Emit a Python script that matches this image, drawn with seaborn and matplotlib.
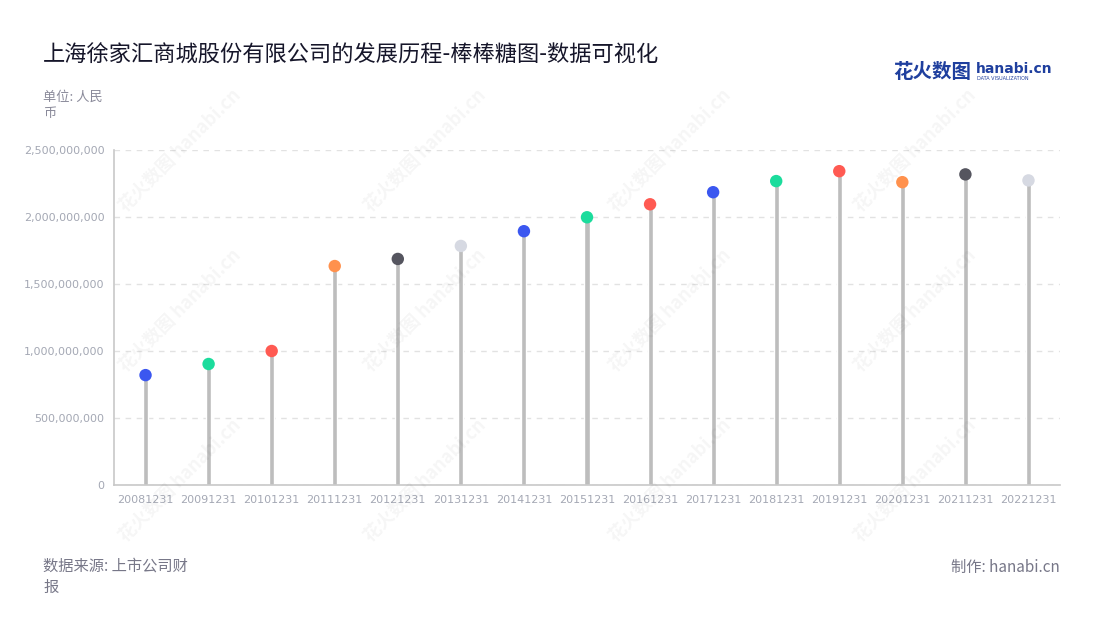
import matplotlib
matplotlib.use('Agg')
import matplotlib.pyplot as plt
import matplotlib.ticker as mticker
import seaborn as sns
import pandas as pd

dates = ['20081231', '20091231', '20101231', '20111231', '20121231', '20131231', '20141231',
         '20151231', '20161231', '20171231', '20181231', '20191231', '20201231', '20211231', '20221231']
values = [820e6, 903e6, 1000e6, 1634e6, 1687e6, 1784e6, 1894e6,
          1998e6, 2095e6, 2185e6, 2268e6, 2342e6, 2260e6, 2318e6, 2273e6]
dot_colors = ['#3b57f0', '#1bdc9c', '#ff5a52', '#ff914d', '#55555f', '#d6d9e2', '#3b57f0',
              '#1bdc9c', '#ff5a52', '#3b57f0', '#1bdc9c', '#ff5a52', '#ff914d', '#55555f', '#d6d9e2']

df = pd.DataFrame({'date': dates, 'value': values})

sns.set_style('white')
plt.rcParams['font.family'] = ['Noto Sans CJK SC', 'DejaVu Sans']

fig = plt.figure(figsize=(11, 6.2), dpi=100)
ax = fig.add_axes([114 / 1100, 1 - 485 / 620, 946 / 1100, 335 / 620])

# watermarks
for wx in [180, 425, 670, 915]:
    for wy in [150, 310, 480]:
        fig.text(wx / 1100, 1 - wy / 620, '花火数图 hanabi.cn', rotation=45, fontsize=13,
                 color='#000000', alpha=0.04, ha='center', va='center', fontweight='bold')

sns.barplot(data=df, x='date', y='value', color='#bdbdbd', width=0.08, ax=ax, zorder=2)
sns.scatterplot(data=df, x='date', y='value', hue='date', palette=dot_colors, s=80,
                edgecolor='none', legend=False, ax=ax, zorder=3)

ax.set_ylim(0, 2.5e9)
ax.set_xlim(-0.5, len(dates) - 0.5)
ax.yaxis.set_major_locator(mticker.MultipleLocator(5e8))
ax.yaxis.set_major_formatter(mticker.FuncFormatter(lambda v, p: f'{int(v):,}'))
ax.grid(axis='y', linestyle=(0, (4, 4)), color='#e2e2e2', linewidth=1, zorder=0)
ax.set_axisbelow(True)
ax.set_xlabel('')
ax.set_ylabel('')
for s in ['top', 'right']:
    ax.spines[s].set_visible(False)
for s in ['left', 'bottom']:
    ax.spines[s].set_color('#c8c8c8')
    ax.spines[s].set_linewidth(1.2)
ax.tick_params(axis='both', length=4, color='#c8c8c8', labelsize=8, labelcolor='#a4a8b4', pad=3)
for lbl in ax.get_xticklabels() + ax.get_yticklabels():
    lbl.set_family(['DejaVu Sans'])

fig.text(43 / 1100, 1 - 55 / 620, '上海徐家汇商城股份有限公司的发展历程-棒棒糖图-数据可视化',
         fontsize=16, color='#16162a', va='center', ha='left')
fig.text(43 / 1100, 1 - 105 / 620, '单位: 人民\n币', fontsize=9.5, color='#8a8a9a',
         va='center', ha='left', linespacing=1.3)
fig.text(43 / 1100, 1 - 577 / 620, '数据来源: 上市公司财\n报', fontsize=11, color='#777788',
         va='center', ha='left', linespacing=1.3)
fig.text(1060 / 1100, 1 - 567 / 620, '制作: hanabi.cn', fontsize=11, color='#777788',
         va='center', ha='right')

# logo
fig.text(893 / 1100, 1 - 72 / 620, '花火数图', fontsize=14, color='#1f3f9e',
         fontweight='bold', va='center', ha='left')
fig.text(976 / 1100, 1 - 69 / 620, 'hanabi.cn', fontsize=10, color='#1f3f9e',
         fontweight='bold', va='center', ha='left', family=['DejaVu Sans'])
fig.text(977 / 1100, 1 - 79 / 620, 'DATA VISUALIZATION', fontsize=3.5, color='#1f3f9e',
         va='center', ha='left', family=['DejaVu Sans'])

fig.savefig('out.png', dpi=100)
